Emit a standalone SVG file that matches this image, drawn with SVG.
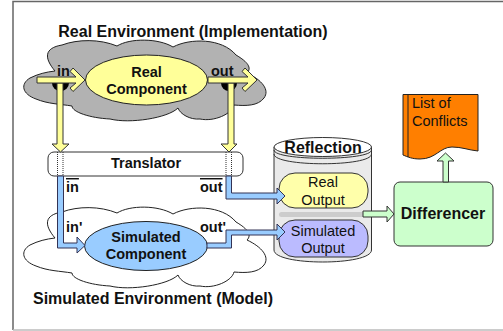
<svg xmlns="http://www.w3.org/2000/svg" width="503" height="331" viewBox="0 0 503 331">
<style>
text{font-family:"Liberation Sans",Arial,sans-serif;fill:#111;font-size:14.500px}
.b{font-weight:bold}
.m{text-anchor:middle}
.t{font-size:16px;font-weight:bold;text-anchor:middle}
.y{fill:#ffff99;stroke:#333;stroke-width:1}
.bl{fill:#99ccff;stroke:#335;stroke-width:1}
.g{fill:#ccffcc;stroke:#333;stroke-width:1}
.d{stroke:#333;stroke-width:1;stroke-dasharray:1 1;fill:none}
</style>
<defs>
<path id="cloud" d="M55 71C44 58 44 48 62 45C78 39 100 39 117 46C130 38 158 38 173 47C190 38 222 38 236 55C248 62 252 68 247 73C262 80 270 90 264 98C258 106 246 106 234 105C232 114 214 122 200 119C190 120 180 114 178 108C168 118 130 124 110 119C90 118 72 112 72 106C60 104 48 104 36 99C22 94 20 84 30 78C38 74 46 72 55 71Z"/>
</defs>
<rect width="503" height="331" fill="#fff"/>
<path d="M13 330V1.500H503" fill="none" stroke="#666" stroke-width="1.500"/>
<path d="M13 330H503" fill="none" stroke="#bbb" stroke-width="1.500"/>
<text class="t" x="193" y="37">Real Environment (Implementation)</text>
<text class="t" x="153" y="304">Simulated Environment (Model)</text>
<g id="real-env"><use href="#cloud" fill="#b2b2b2" stroke="#222"/></g>
<g id="sim-env"><use href="#cloud" y="167" fill="#fff" stroke="#222"/></g>
<g id="ports">
<path d="M52 83A8.500 8 0 0 0 69 83Z" fill="#000"/>
<path d="M221 83A8 8 0 0 0 237 83Z" fill="#000"/>
<text class="b" x="57" y="76">in</text>
<text class="b" x="211" y="76">out</text>
</g>
<g id="translator">
<rect x="48" y="152" width="195" height="24" rx="6" fill="#fff" stroke="#333"/>
<path class="d" d="M57.500 152V176M63 152V176M226 152V176M231.500 152V176"/>
<text class="b m" x="146" y="168">Translator</text>
</g>
<g id="real-component">
<ellipse cx="146.500" cy="80" rx="61" ry="25" fill="#ffff99" stroke="#222"/>
<text class="b m" x="146.500" y="77">Real</text>
<text class="b m" x="146.500" y="94">Component</text>
</g>
<g id="simulated-component">
<ellipse cx="146" cy="246" rx="61.500" ry="24.500" fill="#99ccff" stroke="#222"/>
<text class="b m" x="146" y="242">Simulated</text>
<text class="b m" x="146" y="259">Component</text>
</g>
<g id="reflection">
<path d="M274 147V250C274 266 371.500 266 371.500 250V147Z" fill="#eaeaea" stroke="#333"/>
<path d="M274 150C274 161 371.500 161 371.500 150M274 154C274 167 371.500 167 371.500 154" fill="none" stroke="#333"/>
<ellipse cx="322.750" cy="147" rx="48.750" ry="9.500" fill="#fff" stroke="#333"/>
<rect x="279" y="212" width="86" height="5" rx="2.500" fill="#ccc"/>
<text class="t" x="323" y="153">Reflection</text>
</g>
<g id="real-output">
<rect x="279" y="173" width="89" height="35" rx="16" fill="#ffffaa" stroke="#333"/>
<text class="m" x="323" y="187">Real</text>
<text class="m" x="323" y="205">Output</text>
</g>
<g id="simulated-output">
<rect x="279" y="220" width="89" height="37" rx="16" fill="#bbbbff" stroke="#333"/>
<text class="m" x="323" y="236">Simulated</text>
<text class="m" x="323" y="253">Output</text>
</g>
<g id="differencer">
<rect x="394" y="182" width="99" height="64" rx="6" fill="#ccffcc" stroke="#333"/>
<text class="t" x="443" y="219">Differencer</text>
</g>
<g id="list-of-conflicts">
<path d="M403 94.500H478V151C468 150 462 147 452 147C440 147 436 159 420 159C412 159 408 157 403 155Z" fill="#ff7f00" stroke="#222"/>
<path d="M408 94.500V157" stroke="#222" fill="none"/>
<text x="412" y="108">List of</text>
<text x="412" y="125.500">Conflicts</text>
</g>
<g id="connectors">
<path class="y" d="M57 83V144H52L60.500 152L69 144H63V83Z"/>
<path class="y" d="M228 83V144H221L229 152L237 144H234V83Z"/>
<path class="y" d="M37 77H76L70 71.500L73 68L85 80L73 91.500L70 88L76 83H37Z"/>
<path class="y" d="M208 77H248L242 71.500L245 68L257 80L245 91.500L242 88L248 83H208Z"/>
<path class="bl" d="M57.500 176H63.500V243H77V237L85 245.500L77 253V248H57.500Z"/>
<path class="bl" d="M226 176H231.500V193H277V188L285 196L277 204V199H226Z"/>
<path class="bl" d="M207 243H226V230H277V224L285 232L277 240V235H231.500V248H207Z"/>
<path class="g" d="M363 211H387V206L394 214L387 222V217H363Z"/>
<path class="g" d="M443 182V161H437L445.500 153L454 161H448.500V182Z"/>
</g>
<text class="b" x="66" y="192" style="text-decoration:overline">in</text>
<text class="b" x="200" y="192" style="text-decoration:overline">out</text>
<text class="b" x="66" y="232">in'</text>
<text class="b" x="200" y="232">out'</text>
</svg>
